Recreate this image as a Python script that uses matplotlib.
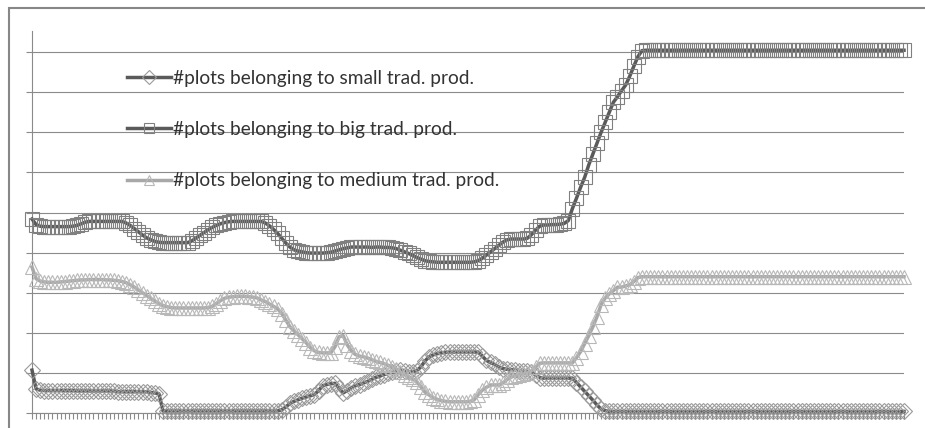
import matplotlib
matplotlib.use('Agg')
import matplotlib.pyplot as plt
from matplotlib.patches import Rectangle

# series values (gridline spacing = 10 units)
small_trad = [
    10.7, 6.0, 5.7, 5.6, 5.6, 5.6, 5.6, 5.6, 5.6, 5.6,
    5.6, 5.5, 5.5, 5.5, 5.5, 5.5, 5.5, 5.5, 5.5, 5.5,
    5.5, 5.3, 5.3, 5.3, 5.3, 5.3, 5.3, 5.3, 5.3, 5.1,
    5.0, 4.8, 0.5, 0.5, 0.5, 0.5, 0.5, 0.5, 0.5, 0.5,
    0.5, 0.5, 0.5, 0.5, 0.5, 0.5, 0.5, 0.5, 0.5, 0.5,
    0.5, 0.5, 0.5, 0.5, 0.5, 0.5, 0.5, 0.5, 0.5, 0.5,
    0.5, 0.8, 1.5, 2.4, 2.9, 3.3, 3.7, 4.0, 4.3, 4.6,
    5.6, 6.8, 7.1, 7.3, 7.4, 6.2, 5.0, 5.6, 6.3, 6.8,
    7.1, 7.5, 7.9, 8.4, 8.9, 9.2, 9.6, 9.9, 10.2, 10.5,
    10.7, 10.6, 10.3, 10.3, 10.6, 11.5, 13.0, 14.0, 14.5, 14.8,
    15.0, 15.1, 15.2, 15.2, 15.2, 15.2, 15.2, 15.2, 15.2, 15.2,
    14.2, 13.1, 12.6, 12.1, 11.5, 11.1, 10.9, 10.8, 10.7, 10.6,
    10.5, 10.4, 10.2, 9.5, 8.8, 8.7, 8.7, 8.7, 8.7, 8.7,
    8.7, 8.7, 8.7, 7.6, 6.5, 5.4, 4.3, 3.2, 2.0, 1.0,
    0.6, 0.4, 0.4, 0.4, 0.4, 0.4, 0.4, 0.4, 0.4, 0.4,
    0.4, 0.4, 0.4, 0.4, 0.4, 0.4, 0.4, 0.4, 0.4, 0.4,
    0.4, 0.4, 0.4, 0.4, 0.4, 0.4, 0.4, 0.4, 0.4, 0.4,
    0.4, 0.4, 0.4, 0.4, 0.4, 0.4, 0.4, 0.4, 0.4, 0.4,
    0.4, 0.4, 0.4, 0.4, 0.4, 0.4, 0.4, 0.4, 0.4, 0.4,
    0.4, 0.4, 0.4, 0.4, 0.4, 0.4, 0.4, 0.4, 0.4, 0.4,
    0.4, 0.4, 0.4, 0.4, 0.4, 0.4, 0.4, 0.4, 0.4, 0.4,
    0.4, 0.4, 0.4, 0.4,
]

big_trad = [
    48.4, 47.0, 46.6, 46.5, 46.5, 46.5, 46.5, 46.5, 46.5, 46.5,
    46.6, 46.8, 47.2, 47.6, 47.8, 47.8, 47.8, 47.8, 47.8, 47.8,
    47.8, 47.8, 47.8, 47.4, 46.8, 46.0, 45.2, 44.4, 43.7, 43.2,
    42.8, 42.6, 42.5, 42.5, 42.5, 42.5, 42.5, 42.5, 42.5, 42.9,
    43.6, 44.3, 45.0, 45.7, 46.3, 46.8, 47.2, 47.5, 47.7, 47.8,
    47.8, 47.8, 47.8, 47.8, 47.8, 47.8, 47.8, 47.4, 46.7, 45.8,
    44.8, 43.6, 42.4, 41.4, 40.7, 40.4, 40.2, 40.0, 39.9, 39.9,
    39.9, 39.9, 40.0, 40.1, 40.4, 40.7, 41.0, 41.2, 41.4, 41.4,
    41.4, 41.4, 41.4, 41.3, 41.4, 41.4, 41.3, 41.3, 41.2, 41.0,
    40.6, 40.2, 39.8, 39.3, 38.8, 38.4, 38.0, 37.8, 37.7, 37.6,
    37.6, 37.6, 37.6, 37.6, 37.6, 37.6, 37.6, 37.6, 37.7, 38.0,
    38.6, 39.4, 40.2, 41.0, 41.8, 42.6, 43.2, 43.4, 43.4, 43.4,
    43.4, 43.6, 44.5, 45.6, 46.6, 46.9, 46.9, 47.0, 47.0, 47.1,
    47.3, 48.0, 51.0, 53.6, 56.3, 58.8, 61.9, 64.6, 67.3, 70.0,
    72.5, 75.0, 77.5, 78.9, 80.4, 81.8, 84.0, 86.5, 88.9, 90.4,
    90.5, 90.5, 90.5, 90.5, 90.5, 90.5, 90.5, 90.5, 90.5, 90.5,
    90.5, 90.5, 90.5, 90.5, 90.5, 90.5, 90.5, 90.5, 90.5, 90.5,
    90.5, 90.5, 90.5, 90.5, 90.5, 90.5, 90.5, 90.5, 90.5, 90.5,
    90.5, 90.5, 90.5, 90.5, 90.5, 90.5, 90.5, 90.5, 90.5, 90.5,
    90.5, 90.5, 90.5, 90.5, 90.5, 90.5, 90.5, 90.5, 90.5, 90.5,
    90.5, 90.5, 90.5, 90.5, 90.5, 90.5, 90.5, 90.5, 90.5, 90.5,
    90.5, 90.5, 90.5, 90.5,
]

medium_trad = [
    36.4, 33.5, 32.9, 32.7, 32.6, 32.6, 32.6, 32.7, 32.8, 32.9,
    33.0, 33.1, 33.2, 33.2, 33.3, 33.3, 33.3, 33.3, 33.2, 33.2,
    33.1, 33.0, 32.8, 32.5, 32.0, 31.4, 30.7, 30.0, 29.3, 28.6,
    27.9, 27.3, 26.8, 26.5, 26.3, 26.2, 26.2, 26.2, 26.2, 26.2,
    26.2, 26.2, 26.2, 26.3, 26.6, 27.3, 28.0, 28.6, 28.9, 29.0,
    29.1, 29.1, 29.1, 29.0, 28.9, 28.7, 28.2, 27.8, 27.2, 26.6,
    26.0, 24.8, 23.2, 21.5, 20.5, 19.5, 18.5, 17.5, 16.3, 15.5,
    15.1, 15.0, 15.0, 15.0, 16.5, 19.0, 19.3, 17.0, 15.5, 14.6,
    14.2, 14.0, 13.7, 13.3, 12.9, 12.6, 12.3, 11.9, 11.6, 11.0,
    10.2, 9.6, 9.0, 8.5, 7.8, 6.5, 5.2, 4.5, 3.8, 3.4,
    3.1, 2.9, 2.8, 2.8, 2.8, 2.8, 2.8, 2.9, 3.3, 4.6,
    5.7, 6.4, 7.0, 7.0, 7.0, 7.5, 8.3, 9.0, 9.3, 9.6,
    9.8, 10.0, 10.5, 11.5, 12.4, 12.5, 12.5, 12.5, 12.5, 12.5,
    12.5, 12.5, 12.5, 13.8, 15.3, 17.3, 19.3, 21.5, 24.0, 27.0,
    28.7, 29.7, 30.5, 31.4, 31.4, 31.7, 32.0, 32.8, 33.8, 34.0,
    34.0, 34.0, 34.0, 34.0, 34.0, 34.0, 34.0, 34.0, 34.0, 34.0,
    34.0, 34.0, 34.0, 34.0, 34.0, 34.0, 34.0, 34.0, 34.0, 34.0,
    34.0, 34.0, 34.0, 34.0, 34.0, 34.0, 34.0, 34.0, 34.0, 34.0,
    34.0, 34.0, 34.0, 34.0, 34.0, 34.0, 34.0, 34.0, 34.0, 34.0,
    34.0, 34.0, 34.0, 34.0, 34.0, 34.0, 34.0, 34.0, 34.0, 34.0,
    34.0, 34.0, 34.0, 34.0, 34.0, 34.0, 34.0, 34.0, 34.0, 34.0,
    34.0, 34.0, 34.0, 34.0,
]

labels = ['#plots belonging to small trad. prod.',
          '#plots belonging to big trad. prod.',
          '#plots belonging to medium trad. prod.']

plt.rcParams['font.family'] = ['Lato', 'DejaVu Sans']

fig = plt.figure(figsize=(9.25, 4.28), dpi=100)
ax = fig.add_axes([32 / 925, 15 / 428, 872 / 925, 382 / 428])

x = list(range(len(big_trad)))
grid_col = '#8a8a8a'

ax.plot(x, small_trad, color='#5a5a5a', lw=2.5, marker='D', ms=8.5,
        mfc='none', mec='#9a9a9a', mew=0.8, clip_on=False, zorder=3)
ax.plot(x, big_trad, color='#5a5a5a', lw=2.5, marker='s', ms=10,
        mfc='none', mec='#808080', mew=0.8, clip_on=False, zorder=3)
ax.plot(x, medium_trad, color='#a8a8a8', lw=2.5, marker='^', ms=10,
        mfc='none', mec='#b8b8b8', mew=0.8, clip_on=False, zorder=3)

ax.set_xlim(0, len(big_trad) - 1)
ax.set_ylim(0, 95.3)
ax.set_yticks(range(0, 100, 10))
ax.set_xticks(x)
ax.set_xticklabels([])
ax.set_yticklabels([])
ax.tick_params(axis='x', direction='out', length=4, width=0.8, color=grid_col)
ax.tick_params(axis='y', direction='out', length=4.5, width=0.8, color=grid_col)
ax.grid(axis='y', color=grid_col, lw=0.8)
ax.set_axisbelow(True)
for side in ['top', 'right']:
    ax.spines[side].set_visible(False)
for side in ['left', 'bottom']:
    ax.spines[side].set_color(grid_col)
    ax.spines[side].set_linewidth(0.8)

leg = ax.legend(labels, loc='upper left', bbox_to_anchor=(127 / 925, 1 - 70 / 428),
                bbox_transform=fig.transFigure, frameon=False, numpoints=1,
                handlelength=2.3, handletextpad=0.1, labelspacing=1.78,
                borderpad=0, borderaxespad=0, fontsize=13.8)
for h in leg.legend_handles:
    h.set_markersize(7.5)
for t in leg.get_texts():
    t.set_color('#333333')

# outer chart frame (right and bottom edges fall outside the picture)
fig.patches.append(Rectangle((9 / 925, -0.02), 1.0, 1.0 - 8 / 428 + 0.02,
                             transform=fig.transFigure, fill=False,
                             edgecolor='#878787', lw=1.5))

fig.savefig('out.png', dpi=100)
